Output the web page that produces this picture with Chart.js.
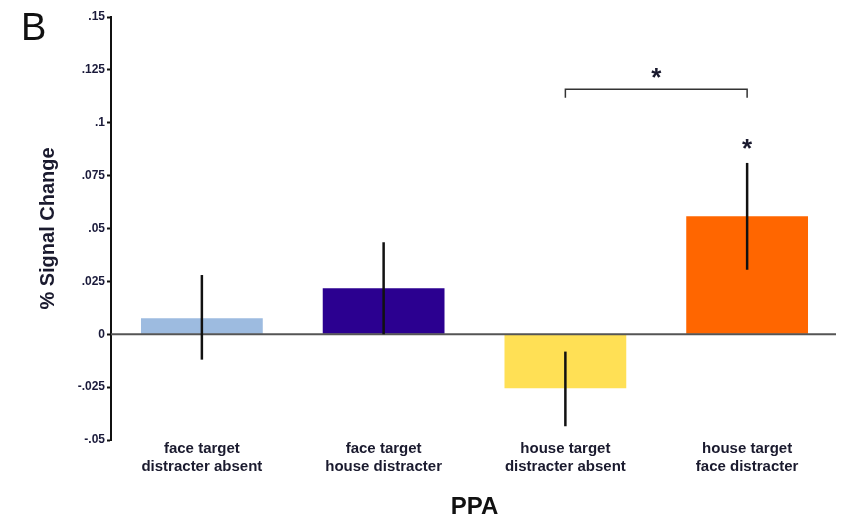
<!DOCTYPE html>
<html>
<head>
<meta charset="utf-8">
<script src="https://cdn.jsdelivr.net/npm/chart.js@4"></script>
<style>
 html, body { margin: 0; padding: 0; background: #fff; }
 #wrap { width: 846px; height: 524px; }
</style>
</head>
<body>
<div id="wrap"><canvas id="ppaChart" width="846" height="524"></canvas></div>
<script>
// categories and values
var categories = [
 ["face target", "distracter absent"],
 ["face target", "house distracter"],
 ["house target", "distracter absent"],
 ["house target", "face distracter"],
];
var meanChange = [0.0076, 0.0218, -0.0255, 0.0558];
var errLow = [-0.012, 0.0, -0.0435, 0.0305];
var errHigh = [0.028, 0.0435, -0.0082, 0.081];
var barColors = ["#9dbbe0", "#2b0090", "#ffe055", "#ff6600"];
var yTicks = [-0.05, -0.025, 0, 0.025, 0.05, 0.075, 0.1, 0.125, 0.15];

// significance marks
var bracketFrom = 2;
var bracketTo = 3;
var bracketValue = 0.1158;
var bracketDrop = 0.004;
var bracketStarValue = 0.123;
var barStarIndex = 3;
var barStarValue = 0.0895;

var fontFamily = "Arial, 'Liberation Sans', sans-serif";

function tickText(v) {
 var r = Math.round(v * 1000) / 1000;
 if (r === 0) return "0";
 return String(r).replace("0.", ".");
}

var extrasPlugin = {
 id: "extras",
 afterDatasetsDraw: function (chart) {
  var ctx = chart.ctx;
  var x = chart.scales.x;
  var y = chart.scales.y;
  ctx.save();

  // zero line
  ctx.strokeStyle = "#555";
  ctx.lineWidth = 2;
  ctx.beginPath();
  ctx.moveTo(chart.chartArea.left, y.getPixelForValue(0));
  ctx.lineTo(chart.chartArea.right - 2, y.getPixelForValue(0));
  ctx.stroke();

  // error bars
  ctx.strokeStyle = "#111";
  ctx.lineWidth = 2.5;
  for (var i = 0; i < meanChange.length; i++) {
   var px = x.getPixelForValue(i);
   ctx.beginPath();
   ctx.moveTo(px, y.getPixelForValue(errLow[i]));
   ctx.lineTo(px, y.getPixelForValue(errHigh[i]));
   ctx.stroke();
  }

  // bracket
  var x1 = x.getPixelForValue(bracketFrom);
  var x2 = x.getPixelForValue(bracketTo);
  var by = y.getPixelForValue(bracketValue);
  var bd = y.getPixelForValue(bracketValue - bracketDrop);
  ctx.strokeStyle = "#333";
  ctx.lineWidth = 1.5;
  ctx.beginPath();
  ctx.moveTo(x1, bd);
  ctx.lineTo(x1, by);
  ctx.lineTo(x2, by);
  ctx.lineTo(x2, bd);
  ctx.stroke();

  // stars
  ctx.fillStyle = "#1a1a2e";
  ctx.font = "bold 26px " + fontFamily;
  ctx.textAlign = "center";
  ctx.textBaseline = "middle";
  ctx.fillText("*", (x1 + x2) / 2, y.getPixelForValue(bracketStarValue) + 5);
  ctx.fillText("*", x.getPixelForValue(barStarIndex), y.getPixelForValue(barStarValue) + 5);

  // panel letter
  ctx.fillStyle = "#111";
  ctx.font = "38px " + fontFamily;
  ctx.textAlign = "left";
  ctx.textBaseline = "alphabetic";
  ctx.fillText("B", 21, 40);

  ctx.restore();
 },
};

var chartDiv = document.getElementById("ppaChart");

new Chart(chartDiv, {
 type: "bar",
 data: {
  labels: categories,
  datasets: [
   {
    label: "% Signal Change",
    data: meanChange,
    backgroundColor: barColors,
    borderWidth: 0,
    barPercentage: 0.67,
    categoryPercentage: 1,
   },
  ],
 },
 options: {
  responsive: false,
  animation: false,
  devicePixelRatio: 1,
  layout: {
   padding: { top: 17, right: 8, left: 0, bottom: 0 },
  },
  plugins: {
   legend: { display: false },
   tooltip: { enabled: false },
  },
  scales: {
   x: {
    grid: { display: false, drawTicks: false },
    border: { display: false },
    ticks: {
     padding: 0,
     color: "#1a1a2e",
     font: { family: fontFamily, size: 15, weight: "bold", lineHeight: 1.2 },
     maxRotation: 0,
     autoSkip: false,
    },
    title: {
     display: true,
     text: "PPA",
     color: "#111",
     font: { family: fontFamily, size: 24, weight: "bold" },
     padding: { top: 0, bottom: 2 },
    },
    afterFit: function (scale) {
     scale.height = 84;
    },
   },
   y: {
    min: -0.05,
    max: 0.15,
    afterBuildTicks: function (scale) {
     scale.ticks = yTicks.map(function (v) {
      return { value: v };
     });
    },
    grid: {
     display: true,
     drawOnChartArea: false,
     drawTicks: true,
     tickLength: 4,
     tickColor: "#111",
     tickWidth: 2,
    },
    border: { display: true, color: "#111", width: 2 },
    ticks: {
     padding: 2,
     color: "#1a1a3a",
     font: { family: fontFamily, size: 12, weight: "bold" },
     callback: function (v) {
      return tickText(v);
     },
    },
    title: {
     display: true,
     text: "% Signal Change",
     color: "#1a1a2e",
     font: { family: fontFamily, size: 20, weight: "bold" },
     padding: { top: 36, bottom: 0 },
    },
    afterFit: function (scale) {
     scale.width = 111;
    },
   },
  },
 },
 plugins: [extrasPlugin],
});
</script>
</body>
</html>
